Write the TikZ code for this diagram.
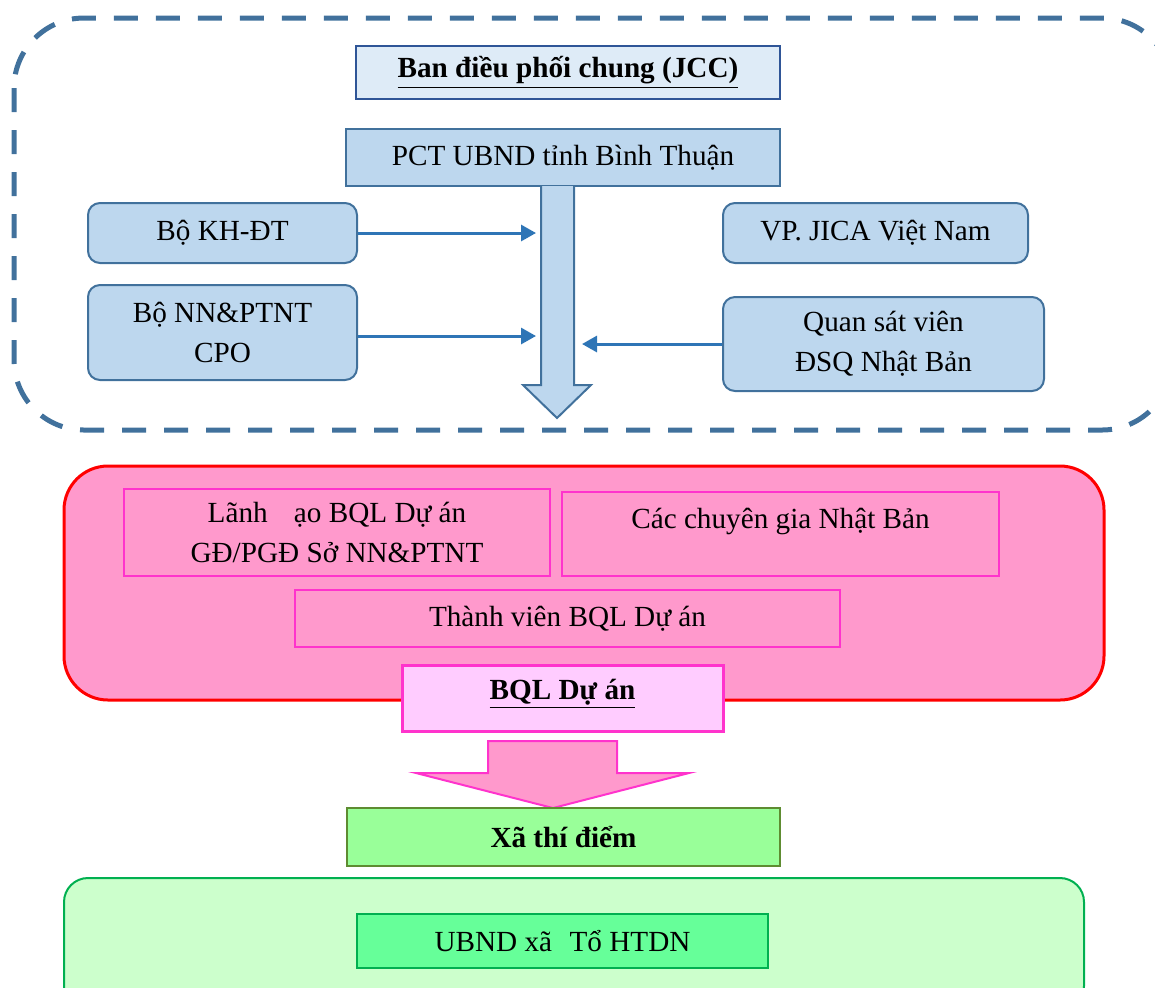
\documentclass[tikz,border=0pt]{standalone}
\usepackage{fontspec}
\setmainfont{Liberation Serif}
\usetikzlibrary{arrows.meta}
\definecolor{dashblue}{HTML}{41719C}
\definecolor{jccfill}{HTML}{DEEBF7}
\definecolor{jccline}{HTML}{2F5597}
\definecolor{bluefill}{HTML}{BDD7EE}
\definecolor{arrowblue}{HTML}{2E75B6}
\definecolor{pinkfill}{HTML}{FF99CC}
\definecolor{pinkline}{HTML}{FF33CC}
\definecolor{palepink}{HTML}{FFCCFF}
\definecolor{xafill}{HTML}{99FF99}
\definecolor{xaline}{HTML}{5E8C31}
\definecolor{greenbg}{HTML}{CCFFCC}
\definecolor{greenline}{HTML}{00B050}
\definecolor{ubndfill}{HTML}{66FF99}
\newcommand\txtsize{\fontsize{14.6}{20}\selectfont}
\begin{document}
\begin{tikzpicture}[x=0.5pt,y=-0.5pt,
  base/.style={draw, align=center, font=\txtsize, inner sep=0pt, text=black},
  bluebox/.style={base, fill=bluefill, draw=dashblue, line width=1pt},
  roundblue/.style={bluebox, rounded corners=6pt},
  pinkbox/.style={base, fill=pinkfill, draw=pinkline, line width=1pt},
  conn/.style={draw=arrowblue, line width=1.5pt, -{Triangle[length=7.5pt,width=8pt]}},
  plain/.style={font=\txtsize, align=center, inner sep=0pt}]
\useasboundingbox (0,0) rectangle (1155,987);
\clip (0,0) rectangle (1155,987);

% Joint coordinating committee frame
\draw[dashblue, line width=2.5pt, dash pattern=on 12pt off 9pt, rounded corners=35pt]
  (14,18) rectangle (1172,430);

\node[base, fill=jccfill, draw=jccline, line width=1.2pt,
  minimum width=212pt, minimum height=26.5pt, font=\txtsize\bfseries]
  (jcc) at (568,72.5) {\underline{Ban điều phối chung (JCC)}};

\node[bluebox, minimum width=217pt, minimum height=28.5pt]
  (pct) at (563,157.5) {PCT UBND tỉnh Bình Thuận};

% Broad downward arrow from the vice-chairman box
\draw[fill=bluefill, draw=dashblue, line width=1pt, line join=miter]
  (541,186) -- (541,385) -- (523,385) -- (557,418) -- (591,385) -- (574,385) -- (574,186);

\node[roundblue, minimum width=134.5pt, minimum height=30pt]
  (kh) at (222.5,233) {Bộ KH-ĐT};
\node[roundblue, minimum width=134.5pt, minimum height=47.5pt]
  (nn) at (222.5,332.5) {Bộ NN\&PTNT\\CPO};
\node[roundblue, minimum width=152.5pt, minimum height=30pt]
  (jica) at (875.5,233) {VP. JICA Việt Nam};
\node[roundblue, minimum width=160.5pt, minimum height=47pt]
  (qsv) at (883.5,344) {Quan sát viên\\ĐSQ Nhật Bản};

\coordinate (tkh) at (536,233);
\coordinate (tnn) at (536,336);
\coordinate (tqsv) at (582,344);
\draw[conn] (kh.east) -- (tkh);
\draw[conn] (nn.east |- tnn) -- (tnn);
\draw[conn] (qsv.west |- tqsv) -- (tqsv);

% Project management unit
\draw[fill=pinkfill, draw=red, line width=1.5pt, rounded corners=22pt]
  (64,466) rectangle (1104,700);

\node[pinkbox, minimum width=213pt, minimum height=43.5pt]
  (lanh) at (337,532.5) {Lãnh\hspace{0.9em}ạo BQL Dự án\\GĐ/PGĐ Sở NN\&PTNT};
\node[pinkbox, minimum width=218.5pt, minimum height=42pt]
  (cgia) at (780.5,534) {};
\node[plain] (cgiatxt) at (780.5,521) {Các chuyên gia Nhật Bản};
\node[pinkbox, minimum width=272.5pt, minimum height=28.5pt]
  (tv) at (567.5,618.5) {Thành viên BQL Dự án};
\node[base, fill=palepink, draw=pinkline, line width=1.5pt,
  minimum width=160.5pt, minimum height=33pt, font=\txtsize\bfseries]
  (bql) at (562.5,698) {};
\node[plain, font=\txtsize\bfseries] (bqltxt) at (562.5,694) {\underline{BQL Dự án}};

% Broad pink arrow down to the pilot communes
\draw[fill=pinkfill, draw=pinkline, line width=1pt, line join=miter]
  (488,741) -- (617,741) -- (617,773) -- (689,773) -- (553,808) -- (416,773) -- (488,773) -- cycle;

\node[base, fill=xafill, draw=xaline, line width=1.2pt,
  minimum width=216.5pt, minimum height=29pt, font=\txtsize\bfseries]
  (xa) at (563.5,837) {Xã thí điểm};

% Commune level
\draw[fill=greenbg, draw=greenline, line width=1pt, rounded corners=12pt]
  (64,878) rectangle (1084,1010);
\node[base, fill=ubndfill, draw=greenline, line width=1.2pt,
  minimum width=205.5pt, minimum height=27pt]
  (ubnd) at (562.5,941) {UBND xã\hspace{0.6em}Tổ HTDN};
\end{tikzpicture}
\end{document}
